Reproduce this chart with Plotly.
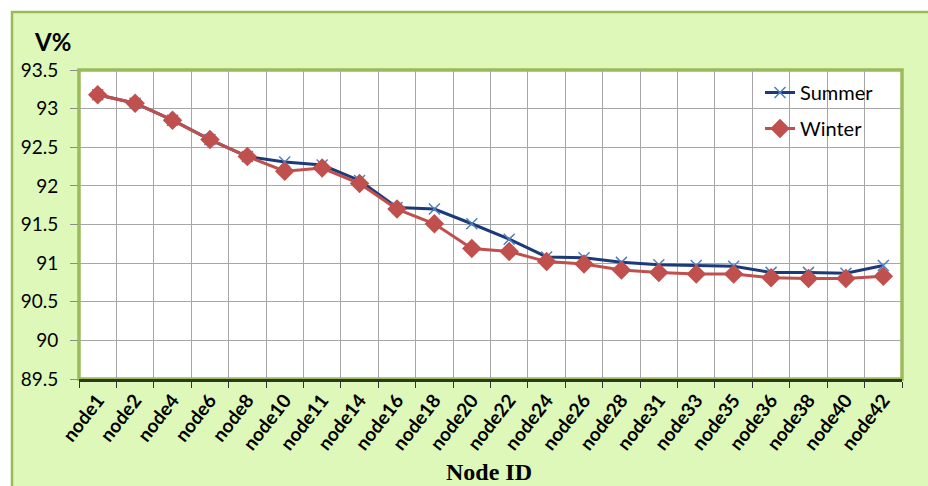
import plotly.graph_objects as go

nodes = ['node1', 'node2', 'node4', 'node6', 'node8', 'node10', 'node11', 'node14',
         'node16', 'node18', 'node20', 'node22', 'node24', 'node26', 'node28', 'node31',
         'node33', 'node35', 'node36', 'node38', 'node40', 'node42']

summer = [93.18, 93.07, 92.85, 92.60, 92.38, 92.31, 92.27, 92.07,
          91.72, 91.70, 91.51, 91.31, 91.08, 91.07, 91.01, 90.98,
          90.97, 90.96, 90.88, 90.88, 90.87, 90.97]

winter = [93.18, 93.07, 92.85, 92.60, 92.38, 92.19, 92.23, 92.03,
          91.70, 91.51, 91.19, 91.15, 91.02, 90.99, 90.91, 90.88,
          90.86, 90.86, 90.81, 90.80, 90.80, 90.83]

BG = '#ddf8b8'
BORDER = '#9bbb59'

# plot area in pixels: left 79, right 902, top 70, bottom 379
L, R, T, B = 79, 902, 70, 379
W, H = 928, 486
pw, ph = R - L, B - T


def px_x(x):
    return (x - L) / pw


def px_y(y):
    return (B - y) / ph


fig = go.Figure()

fig.add_trace(go.Scatter(
    x=nodes, y=summer, name='Summer', mode='lines+markers',
    legendgroup='a',
    line={'color': '#1c3a78', 'width': 3},
    marker={'symbol': 'x-thin', 'size': 11, 'line': {'color': '#4f81bd', 'width': 1.5}},
))

fig.add_trace(go.Scatter(
    x=nodes, y=winter, name='Winter', mode='lines+markers',
    legendgroup='b',
    line={'color': '#c0504d', 'width': 3},
    marker={'symbol': 'diamond', 'size': 15, 'color': '#c0504d'},
))

# outer chart frame
fig.add_shape(type='rect', xref='paper', yref='paper', layer='below',
              x0=px_x(12), x1=px_x(W + 10), y0=px_y(H + 10), y1=px_y(12),
              fillcolor=BG, line={'color': BORDER, 'width': 2.5})
# plot area
fig.add_shape(type='rect', xref='paper', yref='paper', layer='below',
              x0=0, x1=1, y0=0, y1=1,
              fillcolor='white', line={'color': BORDER, 'width': 3.5})

fig.add_annotation(text='<b>V%</b>', xref='paper', yref='paper',
                   x=px_x(32), y=px_y(42), xanchor='left', yanchor='middle',
                   showarrow=False, font={'size': 24, 'color': 'black', 'family': 'Lato'})

fig.add_annotation(text='<b>Node ID</b>', xref='paper', yref='paper',
                   x=px_x(489), y=px_y(472), xanchor='center', yanchor='middle',
                   showarrow=False, font={'size': 24, 'color': 'black', 'family': 'Liberation Serif'})

fig.update_layout(
    width=W, height=H,
    margin={'l': L, 'r': W - R, 't': T, 'b': H - B},
    paper_bgcolor='white',
    plot_bgcolor='rgba(0,0,0,0)',
    font={'family': 'Lato', 'color': 'black'},
    legend={
        'x': px_x(760), 'y': px_y(73), 'xanchor': 'left', 'yanchor': 'top',
        'bgcolor': 'rgba(0,0,0,0)', 'font': {'size': 20, 'family': 'Lato'},
        'tracegroupgap': 7, 'traceorder': 'grouped',
    },
    xaxis={
        'type': 'category',
        'range': [-0.5, len(nodes) - 0.5],
        'tickson': 'boundaries',
        'automargin': False,
        'showgrid': True, 'gridcolor': '#a6a6a6', 'gridwidth': 1,
        'ticks': 'outside', 'ticklen': 6, 'tickcolor': '#333333',
        'showline': True, 'linecolor': '#2b3a1a', 'linewidth': 2.5,
        'tickangle': -52,
        'tickfont': {'size': 19, 'family': 'Lato', 'weight': 'bold'},
        'zeroline': False,
    },
    yaxis={
        'range': [89.5, 93.5], 'dtick': 0.5,
        'automargin': False,
        'showgrid': True, 'gridcolor': '#a6a6a6', 'gridwidth': 1,
        'ticks': 'outside', 'ticklen': 8, 'tickcolor': '#8c8c8c',
        'ticklabelstandoff': 8,
        'tickfont': {'size': 19, 'family': 'Lato'},
        'zeroline': False,
    },
)

fig.write_html('out.html', config={'displayModeBar': False},
               post_script="document.body.style.margin='0';")
